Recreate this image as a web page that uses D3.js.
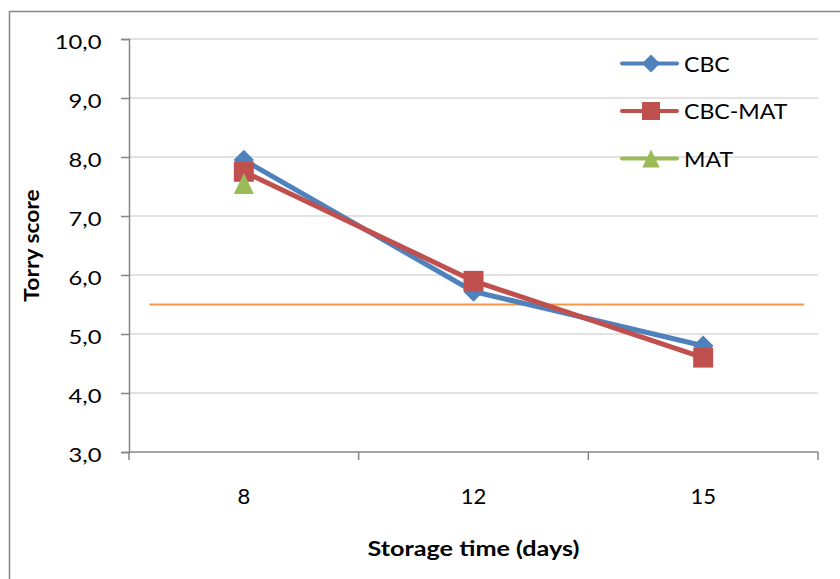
<!DOCTYPE html>
<html>
<head>
<meta charset="utf-8">
<script src="https://cdn.jsdelivr.net/npm/d3@7"></script>
<style>
  html, body { margin: 0; padding: 0; background: #fff; }
  svg { display: block; }
  text { font-family: Lato, "Open Sans", "Liberation Sans", sans-serif; fill: #000; }
</style>
</head>
<body>
<svg id="chart" width="840" height="579"></svg>
<script>
// Storage days on the category axis
const days = ["8", "12", "15"];
// Torry score per storage day for each treatment
const cbc    = [7.95, 5.72, 4.80];
const cbcMat = [7.75, 5.90, 4.60];
const mat    = [7.55, null, null];
// Acceptability limit drawn as a horizontal reference line
const limitValue = 5.5;
// Y-axis tick values
const yTicks = [3, 4, 5, 6, 7, 8, 9, 10];

// Marker shapes: a square turned on its corner and a tall triangle
const diamond = {
  draw(ctx, size) {
    const r = Math.sqrt(size) / 2;
    ctx.moveTo(0, -r); ctx.lineTo(r, 0); ctx.lineTo(0, r); ctx.lineTo(-r, 0); ctx.closePath();
  }
};
const square = {
  draw(ctx, size) {
    const r = Math.sqrt(size) / 2;
    ctx.rect(-r, -r, 2 * r, 2 * r);
  }
};
const triangle = {
  draw(ctx, size) {
    const r = Math.sqrt(size) / 2;
    ctx.moveTo(0, -r * 1.05); ctx.lineTo(r, r * 1.05); ctx.lineTo(-r, r * 1.05); ctx.closePath();
  }
};

const seriesList = [
  { name: "CBC",     values: cbc,    color: "#4F81BD", symbol: diamond,  size: 420, legendSize: 320 },
  { name: "CBC-MAT", values: cbcMat, color: "#C0504D", symbol: square,   size: 400, legendSize: 324 },
  { name: "MAT",     values: mat,    color: "#9BBB59", symbol: triangle, size: 400, legendSize: 300 }
];

const svg = d3.select("#chart");

// Outer frame (continues past the right and bottom edges)
svg.append("rect")
  .attr("x", 9.5).attr("y", 11.5)
  .attr("width", 860).attr("height", 600)
  .attr("fill", "none").attr("stroke", "#868686").attr("stroke-width", 1.5);

const plot = { left: 129, right: 818, top: 39, bottom: 452 };

const x = d3.scaleBand().domain(days).range([plot.left, plot.right]).paddingInner(0).paddingOuter(0);
const y = d3.scaleLinear().domain([3, 10]).range([plot.bottom, plot.top]);
const cx = d => x(d) + x.bandwidth() / 2;

// Text placed at (px, py) and widened horizontally by sx
function wideText(parent, px, py, sx, str, size, anchor, weight) {
  return parent.append("text")
    .attr("transform", `translate(${px},${py}) scale(${sx},1)`)
    .attr("text-anchor", anchor)
    .style("font-size", size + "px")
    .style("font-weight", weight || "normal")
    .text(str);
}

// Horizontal gridlines
svg.append("g")
  .selectAll("line")
  .data(yTicks.filter(t => t > 3))
  .join("line")
  .attr("x1", plot.left).attr("x2", plot.right)
  .attr("y1", d => y(d)).attr("y2", d => y(d))
  .attr("stroke", "#D9D9D9").attr("stroke-width", 1.5);

// Y axis
const yAxis = svg.append("g")
  .attr("transform", `translate(${plot.left},0)`)
  .call(d3.axisLeft(y).tickValues(yTicks).tickSize(8).tickPadding(8)
    .tickFormat(d => d3.format(".1f")(d).replace(".", ",")));
yAxis.select(".domain").attr("stroke", "#868686").attr("stroke-width", 1.5);
yAxis.selectAll(".tick line").attr("stroke", "#868686").attr("stroke-width", 1.5);
yAxis.selectAll(".tick text")
  .attr("x", null).attr("dy", null)
  .attr("transform", "translate(-27.5,9) scale(1.25,1)")
  .style("font-size", "19px")
  .style("font-family", "Lato, 'Open Sans', sans-serif")
  .attr("fill", "#000");

// X axis: ticks on category boundaries
const xAxisG = svg.append("g").attr("transform", `translate(0,${plot.bottom})`);
xAxisG.append("line")
  .attr("x1", plot.left).attr("x2", plot.right)
  .attr("stroke", "#868686").attr("stroke-width", 1.5);
const boundaries = days.map(d => x(d)).concat([x(days[days.length - 1]) + x.bandwidth()]);
xAxisG.selectAll("line.tk")
  .data(boundaries)
  .join("line").attr("class", "tk")
  .attr("x1", d => d).attr("x2", d => d)
  .attr("y1", 0).attr("y2", 8)
  .attr("stroke", "#868686").attr("stroke-width", 1.5);
days.forEach(d => wideText(xAxisG, cx(d), 52, 1.05, d, 21, "middle"));

// Axis titles
wideText(svg, (plot.left + plot.right) / 2, 556, 1.2, "Storage time (days)", 21, "middle", "bold");
svg.append("text")
  .attr("transform", `translate(39,${(plot.top + plot.bottom) / 2 + 0}) rotate(-90) scale(1.14,1)`)
  .attr("text-anchor", "middle")
  .style("font-size", "20px").style("font-weight", "bold")
  .text("Torry score");

// Limit line at 5.5
const limitStart = plot.left + 0.03 * (plot.right - plot.left);
const limitEnd = plot.left + 0.98 * (plot.right - plot.left);
svg.append("line")
  .attr("x1", limitStart).attr("x2", limitEnd)
  .attr("y1", y(limitValue)).attr("y2", y(limitValue))
  .attr("stroke", "#F79646").attr("stroke-width", 2);

// Series lines and markers
const line = d3.line()
  .defined(d => d.v != null)
  .x(d => cx(d.day))
  .y(d => y(d.v));

seriesList.forEach(s => {
  const pts = days.map((day, i) => ({ day, v: s.values[i] }));
  const g = svg.append("g");
  g.append("path")
    .datum(pts)
    .attr("d", line)
    .attr("fill", "none")
    .attr("stroke", s.color)
    .attr("stroke-width", 5)
    .attr("stroke-linejoin", "round");
  g.selectAll("path.m")
    .data(pts.filter(d => d.v != null))
    .join("path").attr("class", "m")
    .attr("transform", d => `translate(${cx(d.day)},${y(d.v)})`)
    .attr("d", d3.symbol().type(s.symbol).size(s.size))
    .attr("fill", s.color);
});

// Legend
const legend = svg.append("g");
seriesList.forEach((s, i) => {
  const ly = 63.5 + i * 47.5;
  const lg = legend.append("g");
  lg.append("line")
    .attr("x1", 622).attr("x2", 677)
    .attr("y1", ly).attr("y2", ly)
    .attr("stroke", s.color).attr("stroke-width", 4).attr("stroke-linecap", "round");
  lg.append("path")
    .attr("transform", `translate(651,${ly})`)
    .attr("d", d3.symbol().type(s.symbol).size(s.legendSize))
    .attr("fill", s.color);
  wideText(lg, 684, ly + 8, 1.05, s.name, 22, "start");
});
</script>
</body>
</html>
